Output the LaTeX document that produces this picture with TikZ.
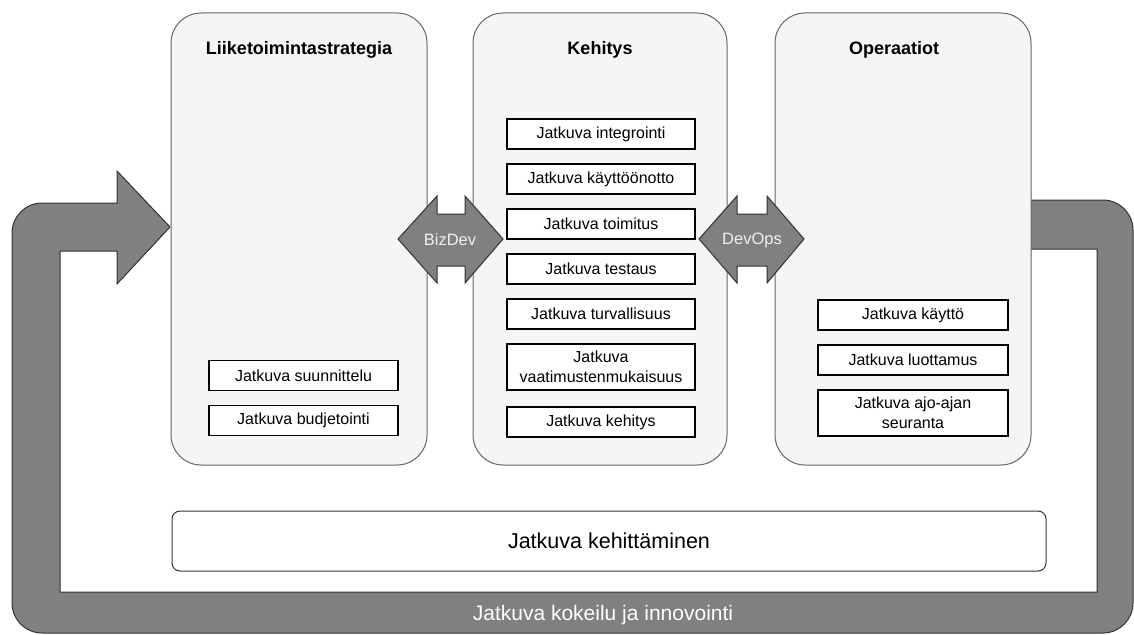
\documentclass[tikz,border=0pt]{standalone}
\usepackage{fontspec}
\setmainfont{Liberation Sans}
\definecolor{panelfill}{HTML}{F5F5F5}
\definecolor{panelline}{HTML}{666666}
\definecolor{arrowfill}{HTML}{808080}
\definecolor{arrowline}{HTML}{333333}
\begin{document}
\begin{tikzpicture}[x=1pt,y=-1pt,
  panel/.style={draw=panelline, fill=panelfill, rounded corners=30pt, line width=1pt, inner sep=0pt},
  head/.style={font=\bfseries\fontsize{18}{20}\selectfont},
  item/.style={draw=black, fill=white, line width=1.3pt, minimum height=30pt, inner sep=0pt,
    align=center, font=\fontsize{16}{20}\selectfont},
  bigarrow/.style={fill=arrowfill, draw=arrowline, line width=1pt, line join=miter},
  arrowtext/.style={text=white!94!black, font=\fontsize{16.5}{18}\selectfont},
]
\useasboundingbox (0,0) rectangle (1134,634);

% feedback loop running round the whole picture
\path[bigarrow] (1000,200) [rounded corners=30pt] -- (1133,200) -- (1133,633) -- (12,633) -- (12,203)
  [sharp corners] -- (117,203) -- (117,171) -- (170,227) -- (117,284) -- (117,251)
  -- (60,251) -- (60,592) -- (1097,592) -- (1097,249) -- (1000,249) -- cycle;
\node[text=white, font=\fontsize{21}{24}\selectfont] (loop) at (603,615) {Jatkuva kokeilu ja innovointi};

% three stages
\node[panel, minimum width=256pt, minimum height=452pt] (strat) at (299,239) {};
\node[panel, minimum width=254pt, minimum height=452pt] (dev) at (600,239) {};
\node[panel, minimum width=256pt, minimum height=452pt] (ops) at (903,239) {};

\node[head] (stratT) at (299,50) {Liiketoimintastrategia};
\node[head] (devT) at (600,50) {Kehitys};
\node[head] (opsT) at (894,50) {Operaatiot};

% two-way links between the stages
\path[bigarrow] (398,239) -- (437,196) -- (437,214) -- (465,214) -- (465,196) -- (503,239)
  -- (465,283) -- (465,266) -- (437,266) -- (437,283) -- cycle;
\node[arrowtext] (bizdev) at (450,240) {BizDev};
\path[bigarrow] (699,239) -- (737,196) -- (737,214) -- (767,214) -- (767,196) -- (804,239)
  -- (767,283) -- (767,266) -- (737,266) -- (737,283) -- cycle;
\node[arrowtext] (devops) at (752,240) {DevOps};

% business strategy items
\begin{scope}[every node/.append style={item, minimum width=189pt}]
\node (s1) at (303.5,375.5) {Jatkuva suunnittelu};
\node (s2) at (303.5,420.5) {Jatkuva budjetointi};
\end{scope}

% development items
\begin{scope}[every node/.append style={item, minimum width=188pt}]
\node (d1) at (601,134) {Jatkuva integrointi};
\node (d2) at (601,179) {Jatkuva käyttöönotto};
\node (d3) at (601,224) {Jatkuva toimitus};
\node (d4) at (601,269) {Jatkuva testaus};
\node (d5) at (601,314) {Jatkuva turvallisuus};
\node[minimum height=46pt] (d6) at (601,367) {Jatkuva\\vaatimustenmukaisuus};
\node (d7) at (601,422) {Jatkuva kehitys};
\end{scope}

% operations items
\begin{scope}[every node/.append style={item, minimum width=190pt}]
\node (o1) at (913,315) {Jatkuva käyttö};
\node (o2) at (913,360) {Jatkuva luottamus};
\node[minimum height=46pt] (o3) at (913,413) {Jatkuva ajo-ajan\\seuranta};
\end{scope}

% continuous improvement bar
\node[draw=black!80, fill=white, rounded corners=8pt, line width=1pt, minimum width=874pt,
  minimum height=60pt, inner sep=0pt, font=\fontsize{21.5}{24}\selectfont] (improve) at (609,541)
  {Jatkuva kehittäminen};
\end{tikzpicture}
\end{document}
